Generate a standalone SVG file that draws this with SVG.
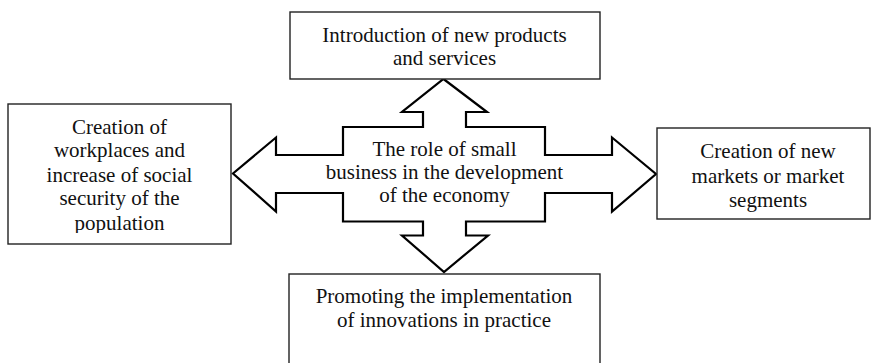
<svg xmlns="http://www.w3.org/2000/svg" width="871" height="363" viewBox="0 0 871 363">
<style>
.box{fill:#fff;stroke:#222;stroke-width:1.4}
.arrow{fill:#fff;stroke:#000;stroke-width:2.2;stroke-linejoin:miter}
text{font-family:"Liberation Serif","Times New Roman",serif;font-size:21px;fill:#111;text-anchor:middle}
</style>
<defs>
<clipPath id="clipLeft"><rect x="8" y="104" width="223" height="129"/></clipPath>
</defs>
<rect width="871" height="363" fill="#fff"/>
<g id="connectors">
<polygon class="arrow" points="443.5,79 487,112 466,112 466,127 545,127 545,155 612,155 612,137.5 656,174 612,211.5 612,193 545,193 545,221.5 466,221.5 466,235.5 488,235.5 444,272 402,235.5 423,235.5 423,221.5 343,221.5 343,193 276,193 276,211.5 233,173.5 276,137.5 276,155 343,155 343,127 423,127 423,112 402,112"/>
</g>
<g id="node-center">
<text x="444.5" y="156">The role of small</text>
<text x="444.5" y="179">business in the development</text>
<text x="444.5" y="202">of the economy</text>
</g>
<g id="node-top">
<rect class="box" x="290" y="12" width="310" height="67"/>
<text x="444.5" y="41.5">Introduction of new products</text>
<text x="444.5" y="65">and services</text>
</g>
<g id="node-left">
<rect class="box" x="8" y="104" width="223" height="140"/>
<g clip-path="url(#clipLeft)">
<text x="119.5" y="133.5">Creation of</text>
<text x="119.5" y="157">workplaces and</text>
<text x="119.5" y="181.5">increase of social</text>
<text x="119.5" y="205">security of the</text>
<text x="119.5" y="230">population</text>
</g>
</g>
<g id="node-right">
<rect class="box" x="657" y="128" width="213" height="91"/>
<text x="768" y="158">Creation of new</text>
<text x="768" y="183">markets or market</text>
<text x="768" y="207">segments</text>
</g>
<g id="node-bottom">
<rect class="box" x="289" y="274" width="311" height="100"/>
<text x="444" y="303">Promoting the implementation</text>
<text x="444" y="327">of innovations in practice</text>
</g>
</svg>
